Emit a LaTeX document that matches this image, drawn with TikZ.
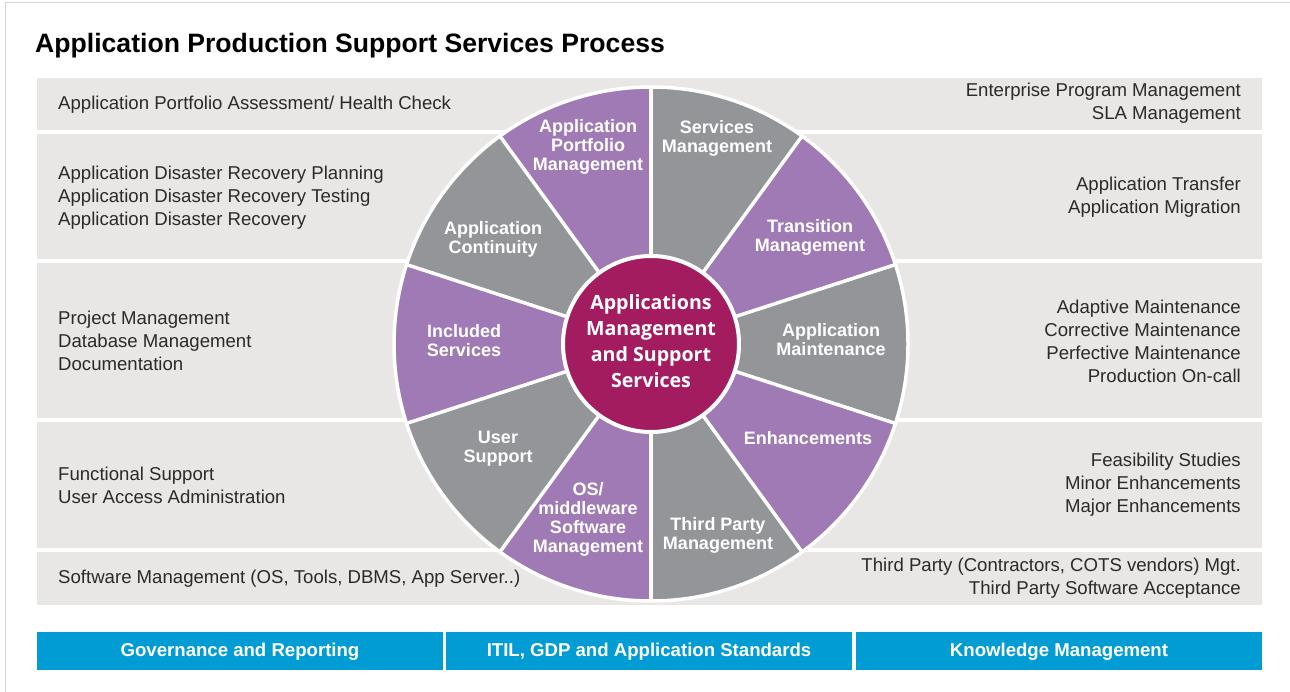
\documentclass[tikz,border=0pt]{standalone}
\usepackage{fontspec}
\setmainfont{Liberation Sans}
\newfontfamily\hubfont{Open Sans}
\definecolor{bandc}{HTML}{E8E7E6}
\definecolor{purp}{HTML}{A07AB4}
\definecolor{gry}{HTML}{939598}
\definecolor{mag}{HTML}{A31C60}
\definecolor{barc}{HTML}{009CD3}
\definecolor{txt}{HTML}{2A2A2A}
\definecolor{framec}{HTML}{D4D4D4}
\begin{document}
\begin{tikzpicture}[x=1pt,y=1pt,
  lefttxt/.style={anchor=west, align=left, inner sep=0pt, text=txt, font=\fontsize{18.6}{23}\selectfont},
  righttxt/.style={anchor=east, align=right, inner sep=0pt, text=txt, font=\fontsize{18.6}{23}\selectfont},
  seglbl/.style={align=center, inner sep=0pt, text=white, font=\bfseries\fontsize{18}{19}\selectfont},
  barbox/.style={fill=barc, minimum width=406pt, minimum height=38pt, inner sep=0pt, text height=13.3pt, text depth=2pt, text=white, font=\bfseries\fontsize{18.6}{20}\selectfont}]
\useasboundingbox (0,0) rectangle (1290,-692);
\fill[white] (0,0) rectangle (1290,-692);
% frame
\draw[framec, line width=1pt] (5,-692) -- (5,-3) -- (1290,-3);
% title
\node[anchor=base west, inner sep=0pt, font=\bfseries\fontsize{26.6}{30}\selectfont, text=black] (title) at (35,-52.5) {Application Production Support Services Process};
% bands
\fill[bandc] (37,-78) rectangle (1262,-130);
\fill[bandc] (37,-134) rectangle (1262,-259);
\fill[bandc] (37,-263) rectangle (1262,-418);
\fill[bandc] (37,-422) rectangle (1262,-548);
\fill[bandc] (37,-552) rectangle (1262,-605);
% left texts
\node[lefttxt] (l1) at (58,-104.5) {Application Portfolio Assessment/ Health Check};
\node[lefttxt] (l2) at (58,-197.5) {Application Disaster Recovery Planning\\Application Disaster Recovery Testing\\Application Disaster Recovery};
\node[lefttxt] (l3) at (58,-340.5) {Project Management\\Database Management\\Documentation};
\node[lefttxt] (l4) at (58,-485) {Functional Support\\User Access Administration};
\node[lefttxt] (l5) at (58,-578.5) {Software Management (OS, Tools, DBMS, App Server..)};
% right texts
\node[righttxt] (r1) at (1241,-103) {Enterprise Program Management\\SLA Management};
\node[righttxt] (r2) at (1241,-197) {Application Transfer\\Application Migration};
\node[righttxt] (r3) at (1241,-341) {Adaptive Maintenance\\Corrective Maintenance\\Perfective Maintenance\\Production On-call};
\node[righttxt] (r4) at (1241,-485) {Feasibility Studies\\Minor Enhancements\\Major Enhancements};
\node[righttxt] (r5) at (1241,-578) {Third Party (Contractors, COTS vendors) Mgt.\\Third Party Software Acceptance};
% wheel
\coordinate (C) at (651,-344);
\foreach \s/\c in {90/purp,54/gry,18/purp,-18/gry,-54/purp,-90/gry,-126/purp,-162/gry,162/purp,126/gry}
  \fill[\c] (C) -- ++(\s:257) arc[start angle=\s, end angle=\s+36, radius=257] -- cycle;
\foreach \s in {90,54,18,-18,-54,-90,-126,-162,162,126}
  \draw[white, line width=3.5pt] (C) -- ++(\s:257);
\draw[white, line width=3.5pt] (C) circle[radius=257];
\node[circle, fill=mag, draw=white, line width=4pt, minimum size=176pt, inner sep=0pt] (hub) at (C) {};
\node[align=center, inner sep=0pt, text=white, font=\hubfont\bfseries\fontsize{19.6}{26}\selectfont] (hubtxt) at (651,-341.5) {Applications\\Management\\and Support\\Services};
% segment labels
\node[seglbl] (apm) at (588,-146.5) {Application\\Portfolio\\Management};
\node[seglbl] (sm) at (717,-138) {Services\\Management};
\node[seglbl] (tm) at (810,-237) {Transition\\Management};
\node[seglbl] (am) at (831,-340) {Application\\Maintenance};
\node[seglbl] (enh) at (808,-438.5) {Enhancements};
\node[seglbl] (tpm) at (718,-535) {Third Party\\Management};
\node[seglbl] (osm) at (588,-519) {OS/\\middleware\\Software\\Management};
\node[seglbl] (us) at (498,-449) {User\\Support};
\node[seglbl] (is) at (464,-341) {Included\\Services};
\node[seglbl] (ac) at (493,-239) {Application\\Continuity};
% bottom bar
\node[barbox] (gov) at (240,-651) {Governance and Reporting};
\node[barbox] (itil) at (649,-651) {ITIL, GDP and Application Standards};
\node[barbox] (km) at (1059,-651) {Knowledge Management};
\end{tikzpicture}
\end{document}
